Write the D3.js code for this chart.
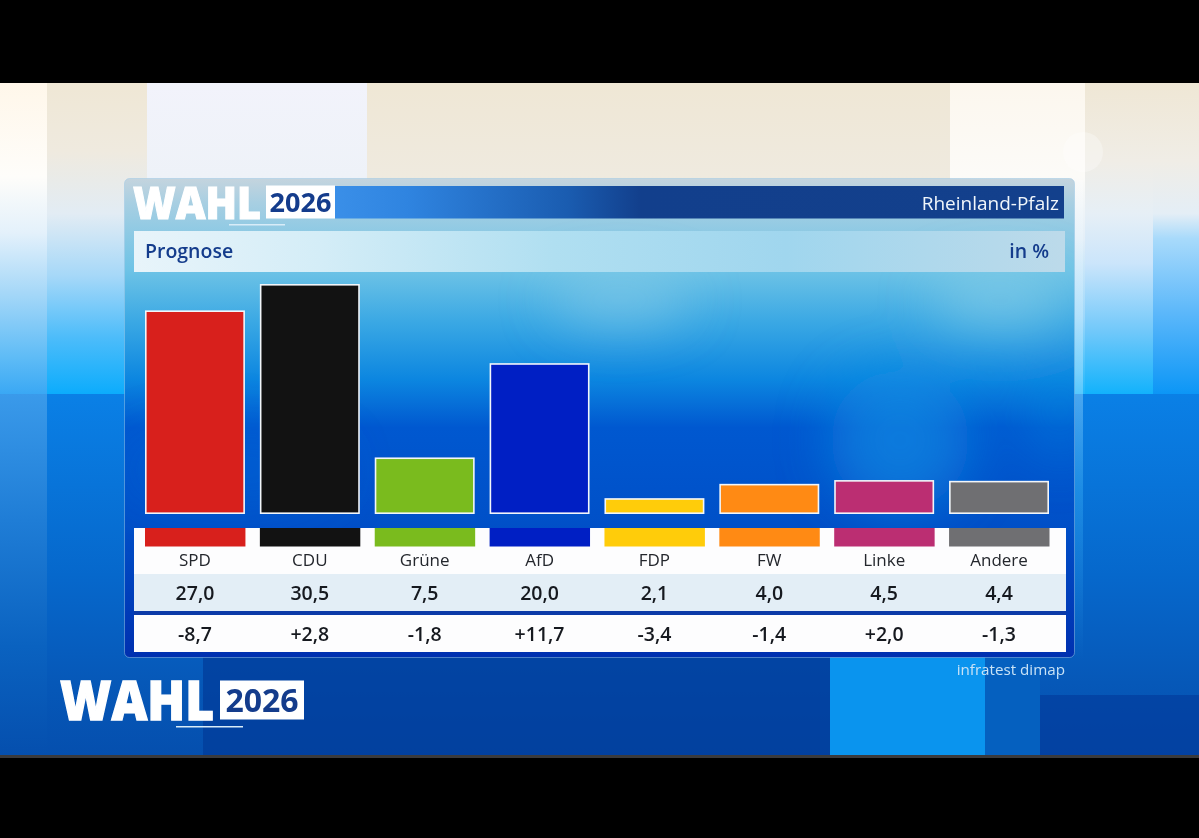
<!DOCTYPE html>
<html><head><meta charset="utf-8">
<script src="https://cdnjs.cloudflare.com/ajax/libs/d3/7.8.5/d3.min.js"></script>
<style>html,body{margin:0;padding:0;background:#000;overflow:hidden}svg{display:block}text{font-family:"Open Sans","Noto Sans",sans-serif}</style>
</head><body><div id="c"></div>
<script>
const parties = ["SPD","CDU","Grüne","AfD","FDP","FW","Linke","Andere"];
const shares = [27.0,30.5,7.5,20.0,2.1,4.0,4.5,4.4];
const shareLabels = ["27,0","30,5","7,5","20,0","2,1","4,0","4,5","4,4"];
const changeLabels = ["-8,7","+2,8","-1,8","+11,7","-3,4","-1,4","+2,0","-1,3"];
const colors = ["#d8201c","#121212","#7abb1e","#001fc4","#ffcc0a","#ff8a14","#bb2e72","#6f6f72"];
const title = "Prognose", unit = "in %", region = "Rheinland-Pfalz", source = "infratest dimap";

const W=1199,H=838;
const svg=d3.select("#c").append("svg").attr("width",W).attr("height",H);
const defs=svg.append("defs");
function grad(id,stops,x2=0,y2=1){
  const g=defs.append("linearGradient").attr("id",id).attr("x1",0).attr("y1",0).attr("x2",x2).attr("y2",y2);
  stops.forEach(s=>g.append("stop").attr("offset",s[0]).attr("stop-color",s[1]).attr("stop-opacity",s[2]===undefined?1:s[2]));
}
grad("colA",[[0,"#fff7ea"],[0.3,"#fefdfa"],[0.48,"#e4f1fb"],[0.68,"#a4d7f8"],[0.88,"#5fbcf6"],[1,"#3aa8f4"]]);
grad("colB",[[0,"#efe7d5"],[0.22,"#efeadf"],[0.42,"#e2ecf4"],[0.62,"#a6d8f8"],[0.82,"#4cbcfa"],[1,"#0cacfc"]]);
grad("colC",[[0,"#f2f3fb"],[0.3,"#eef2f8"],[0.6,"#c0def4"],[1,"#60b6ec"]]);
grad("colD",[[0,"#efe7d5"],[0.3,"#efeadf"],[0.6,"#c0def4"],[1,"#60b6ec"]]);
grad("colE",[[0,"#fcf7ee"],[0.3,"#fcfbf8"],[0.5,"#e4eff8"],[0.75,"#9ed8fb"],[1,"#1eb6fc"]]);
grad("colF",[[0,"#efe7d5"],[0.25,"#f0ede6"],[0.42,"#e6eff6"],[0.58,"#cbe5fb"],[0.8,"#70c8fa"],[1,"#12b2fc"]]);
grad("colG",[[0,"#efe7d5"],[0.25,"#f0ede6"],[0.42,"#e4eef6"],[0.5,"#a8dafb"],[0.75,"#58b6fa"],[1,"#0c96f6"]]);
grad("bgBot",[[0,"#0a80e6"],[0.5,"#0668cc"],[0.8,"#0658b8"],[1,"#054fae"]]);
grad("bgLeft",[[0,"#3a9aea"],[0.35,"#1f7dd6"],[0.7,"#0a62c0"],[1,"#054fae"]]);
grad("panel",[[0,"#c4d4de"],[0.05,"#a8cfe2"],[0.19,"#6ec3e6"],[0.3,"#3aa8e4"],[0.42,"#0c86e0"],[0.52,"#0058d0"],[0.72,"#0050c8"],[1,"#0030b0"]]);
grad("head",[[0,"#3a8fe8"],[0.1,"#2f84e0"],[0.32,"#1a5cb0"],[0.42,"#123f8c"],[1,"#13408c"]],1,0);
grad("sub",[[0,"#e8f4fa"],[0.2,"#d4edf7"],[0.45,"#b0dff1"],[0.7,"#a0d6ee"],[1,"#bcdaea"]],1,0);
grad("glow",[[0,"#ffffff",0.25],[0.4,"#c8ecff",0.4],[0.65,"#4cc4ff",0.3],[1,"#4cc4ff",0]]);
const blur=defs.append("filter").attr("id","soft").attr("filterUnits","userSpaceOnUse").attr("x",0).attr("y",100).attr("width",W).attr("height",600);
blur.append("feGaussianBlur").attr("stdDeviation",26);
defs.append("clipPath").attr("id","panelClip").append("rect").attr("x",125).attr("y",179).attr("width",949).attr("height",478).attr("rx",5);

// Background
const bg=svg.append("g");
const columns=[[0,47,"colA"],[47,100,"colB"],[147,220,"colC"],[367,583,"colD"],[950,135,"colE"],[1085,68,"colF"],[1153,46,"colG"]];
columns.forEach(d=>bg.append("rect").attr("x",d[0]).attr("y",83).attr("width",d[1]).attr("height",311).attr("fill",`url(#${d[2]})`));
bg.append("rect").attr("x",0).attr("y",394).attr("width",W).attr("height",361).attr("fill","url(#bgBot)");
bg.append("rect").attr("x",0).attr("y",394).attr("width",47).attr("height",361).attr("fill","url(#bgLeft)");
bg.append("rect").attr("x",203).attr("y",657).attr("width",630).attr("height",98).attr("fill","#023a98").attr("opacity",.7);
bg.append("rect").attr("x",830).attr("y",657).attr("width",155).attr("height",98).attr("fill","#0a94ee");
bg.append("rect").attr("x",985).attr("y",657).attr("width",55).attr("height",98).attr("fill","#0560bf");
bg.append("rect").attr("x",1040).attr("y",695).attr("width",159).attr("height",60).attr("fill","#02389a").attr("opacity",.6);
bg.append("rect").attr("x",1075).attr("y",180).attr("width",8).attr("height",480).attr("fill","url(#glow)");
bg.append("circle").attr("cx",1083).attr("cy",152).attr("r",20).attr("fill","#fff").attr("opacity",.3);
svg.append("rect").attr("x",0).attr("y",755).attr("width",W).attr("height",3).attr("fill","#3a3a3c");

// Panel
const panel=svg.append("g");
panel.append("rect").attr("x",124.5).attr("y",178.5).attr("width",950).attr("height",479).attr("rx",5).attr("fill","url(#panel)").attr("stroke","#9cc8e6").attr("stroke-opacity",.5);
const blotches=panel.append("g").attr("clip-path","url(#panelClip)").append("g").attr("filter","url(#soft)");
[[620,300,70,26,"#9ad4ea",.5],[1000,300,70,30,"#9ad8e8",.5],[900,440,70,70,"#0a8ee4",.65],[1060,410,40,50,"#0a88e0",.4],[230,470,110,40,"#0a6ad8",.4]]
 .forEach(b=>blotches.append("ellipse").attr("cx",b[0]).attr("cy",b[1]).attr("rx",b[2]).attr("ry",b[3]).attr("fill",b[4]).attr("opacity",b[5]));

// Header
function logo(g,xPos,base,wahlSize,wahlW,boxX,boxW,boxH,yearSize,ulX,ulW,ulY){
  g.append("text").attr("x",xPos).attr("y",base).attr("font-size",wahlSize).attr("font-weight",800).attr("fill","#fff")
   .attr("stroke","#fff").attr("stroke-width",wahlSize*0.025).attr("textLength",wahlW).attr("lengthAdjust","spacingAndGlyphs").text("WAHL");
  g.append("rect").attr("x",boxX).attr("y",base-boxH).attr("width",boxW).attr("height",boxH).attr("fill","#fff");
  g.append("text").attr("x",boxX+boxW/2).attr("y",base-boxH/2).attr("dy","0.36em").attr("text-anchor","middle").attr("font-size",yearSize).attr("font-weight",700).attr("fill","#143c8c").text("2026");
  g.append("rect").attr("x",ulX).attr("y",ulY).attr("width",ulW).attr("height",1.5).attr("fill","#d8ecf8");
}
panel.append("rect").attr("x",335).attr("y",186).attr("width",729).attr("height",32.5).attr("fill","url(#head)");
logo(panel,133,218.5,45,128,266,69,33,27,229,56,224);
panel.append("text").attr("x",1059).attr("y",209.5).attr("text-anchor","end").attr("font-size",19).attr("font-weight",500).attr("fill","#f0f6fb").text(region);
panel.append("rect").attr("x",134).attr("y",231).attr("width",931).attr("height",41).attr("fill","url(#sub)");
panel.append("text").attr("x",145).attr("y",258).attr("font-size",19.5).attr("font-weight",600).attr("fill","#143c8c").text(title);
panel.append("text").attr("x",1049).attr("y",258).attr("text-anchor","end").attr("font-size",19.5).attr("font-weight",600).attr("fill","#143c8c").text(unit);

// Scales
const x=d3.scaleBand().domain(parties).range([145,1049]).paddingInner(0.13).paddingOuter(0);
const y=d3.scaleLinear().domain([0,30.5]).range([514,284]);
const data=parties.map((p,i)=>({p,v:shares[i],s:shareLabels[i],c:changeLabels[i],col:colors[i]}));

// Bars
const sw=1.6;
panel.selectAll("rect.bar").data(data).join("rect").attr("class","bar")
  .attr("x",d=>x(d.p)+sw/2).attr("y",d=>y(d.v)+sw/2).attr("width",x.bandwidth()-sw).attr("height",d=>y(0)-y(d.v)-sw)
  .attr("fill",d=>d.col).attr("stroke","#f2f6fa").attr("stroke-width",sw);

// Table
panel.append("rect").attr("x",134).attr("y",528).attr("width",932).attr("height",46).attr("fill","#fdfdfe");
panel.append("rect").attr("x",134).attr("y",574).attr("width",932).attr("height",37).attr("fill","#e3eef6");
panel.append("rect").attr("x",134).attr("y",611).attr("width",932).attr("height",4).attr("fill","#0b3aa8");
panel.append("rect").attr("x",134).attr("y",615).attr("width",932).attr("height",37).attr("fill","#fdfdfe");
panel.selectAll("rect.sw").data(data).join("rect").attr("class","sw")
  .attr("x",d=>x(d.p)).attr("y",528).attr("width",x.bandwidth()+0.5).attr("height",18.5).attr("fill",d=>d.col);
const cx=d=>x(d.p)+x.bandwidth()/2;
const rows=[[d=>d.p,566,17,"#24272d",500],[d=>d.s,599.5,19.5,"#16191f",600],[d=>d.c,640.5,19.5,"#16191f",600]];
rows.forEach(r=>panel.selectAll(null).data(data).join("text").attr("x",cx).attr("y",r[1]).attr("text-anchor","middle")
  .attr("font-size",r[2]).attr("font-weight",r[4]).attr("fill",r[3]).text(r[0]));

panel.append("text").attr("x",1065).attr("y",675).attr("text-anchor","end").attr("font-size",15.2).attr("fill","#c8e2f6").text(source);

// Lower logo
logo(svg.append("g"),60,719.5,54,154,220,84,39,32,176,67,726);
</script></body></html>
